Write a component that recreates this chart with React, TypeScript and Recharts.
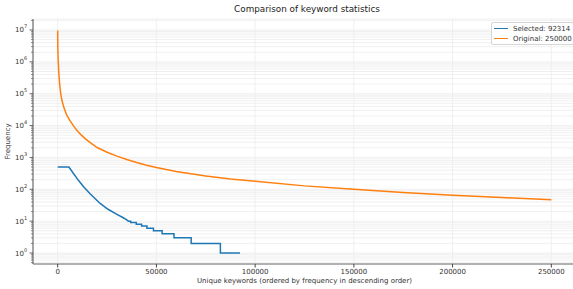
import { LineChart, Line, XAxis, YAxis, CartesianGrid } from 'recharts';

// values
const selectedRanks = [0, 5700, 7900, 10500, 13000, 16400, 21500, 25500, 30000, 33000, 35000, 35800, 37000, 37000, 39800, 39800, 42500, 42500, 45200, 45200, 48500, 48500, 52900, 52900, 58900, 58900, 67600, 67600, 82400, 82400, 92314];
const selectedFreqs = [500, 500, 318, 191, 122, 72, 36, 23.6, 16.4, 13, 11, 10, 10, 9, 9, 8, 8, 7, 7, 6, 6, 5, 5, 4, 4, 3, 3, 2, 2, 1, 1];

const originalRanks = [0, 60, 150, 300, 500, 700, 1000, 1500, 2200, 3200, 4500, 6000, 8000, 10000, 12000, 14200, 17000, 20000, 25000, 30000, 35000, 40000, 45000, 50000, 60000, 75000, 87500, 100000, 125000, 150000, 175000, 200000, 225000, 250000];
const originalFreqs = [9600000, 3000000, 1700000, 1000000, 550000, 350000, 200000, 105000, 60000, 36000, 22000, 15000, 9800, 6800, 5000, 3750, 2750, 2050, 1450, 1100, 860, 690, 570, 480, 360, 260, 210, 178, 128, 100, 80, 65, 55, 47];

const xTicks = [0, 50000, 100000, 150000, 200000, 250000];
const yMajorExps = [0, 1, 2, 3, 4, 5, 6, 7];
const yMinorMult = [2, 3, 4, 5, 6, 7, 8, 9];

const selectedData = selectedRanks.map((r, i) => ({ rank: r, freq: selectedFreqs[i] }));
const originalData = originalRanks.map((r, i) => ({ rank: r, freq: originalFreqs[i] }));

const yMajor = yMajorExps.map((e) => Math.pow(10, e));
const yMinor: number[] = [];
[-1, ...yMajorExps].forEach((e) => yMinorMult.forEach((m) => yMinor.push(m * Math.pow(10, e))));
const yDomain = [Math.pow(10, -0.345), Math.pow(10, 7.345)];
const yTicks = [...yMajor, ...yMinor.filter((v) => v > yDomain[0] && v < yDomain[1])];

const FONT = '"DejaVu Sans", sans-serif';
const BLUE = '#1f77b4';
const ORANGE = '#ff7f0e';
const AXIS_X = 33;

function YTick(props: any) {
  const { y, payload } = props;
  const v = payload.value;
  const e = Math.round(Math.log10(v));
  const major = Math.abs(Math.log10(v) - e) < 1e-6;
  if (!major) {
    return <line x1={AXIS_X - 2} x2={AXIS_X} y1={y} y2={y} stroke="#444" strokeWidth={0.6} />;
  }
  return (
    <g>
      <line x1={AXIS_X - 3.5} x2={AXIS_X} y1={y} y2={y} stroke="#444" strokeWidth={0.8} />
      <text x={AXIS_X - 9} y={y + 2.5} textAnchor="end" fontSize={7} fill="#333" fontFamily={FONT}>
        10
      </text>
      <text x={AXIS_X - 9} y={y - 1.5} textAnchor="start" fontSize={5} fill="#333" fontFamily={FONT}>
        {e}
      </text>
    </g>
  );
}

function YLabel(props: any) {
  const { viewBox } = props;
  const cy = viewBox.y + viewBox.height / 2;
  return (
    <text x={10} y={cy} transform={`rotate(-90 10 ${cy})`} textAnchor="middle" fontSize={7} fill="#333" fontFamily={FONT}>
      Frequency
    </text>
  );
}

const legendItems = [
  { label: 'Selected: 92314', color: BLUE },
  { label: 'Original: 250000', color: ORANGE },
];

export default function App() {
  return (
    <div style={{ position: 'relative', width: 573, height: 289, overflow: 'hidden', background: '#fff' }}>
      <style>{'body{margin:0}'}</style>
      <div
        style={{
          position: 'absolute',
          left: 0,
          top: 4,
          width: 614,
          textAlign: 'center',
          fontFamily: FONT,
          fontSize: 8.8,
          color: '#222',
        }}
      >
        Comparison of keyword statistics
      </div>
      <LineChart width={580} height={289} margin={{ top: 19, right: 4, left: 0, bottom: 0 }}>
        <CartesianGrid stroke="#ececec" strokeWidth={0.8} />
        <XAxis
          dataKey="rank"
          type="number"
          domain={[-12500, 262500]}
          ticks={xTicks}
          allowDataOverflow
          height={25}
          axisLine={{ stroke: '#9a9a9a', strokeWidth: 1.6 }}
          tickLine={{ stroke: '#444' }}
          tickSize={3.5}
          tick={{ fontSize: 7, fill: '#333', fontFamily: FONT }}
          label={{
            value: 'Unique keywords (ordered by frequency in descending order)',
            position: 'insideBottom',
            offset: 6,
            style: { fontSize: 7, fill: '#333', fontFamily: FONT },
          }}
        />
        <XAxis xAxisId="top" orientation="top" type="number" domain={[-12500, 262500]} height={0} tick={false} tickLine={false} axisLine={{ stroke: '#555' }} />
        <YAxis
          scale="log"
          domain={yDomain}
          ticks={yTicks}
          allowDataOverflow
          interval={0}
          width={33}
          axisLine={{ stroke: '#555' }}
          tickLine={false}
          tick={<YTick />}
          label={<YLabel />}
        />
        <Line
          data={selectedData}
          dataKey="freq"
          name="Selected: 92314"
          type="linear"
          stroke={BLUE}
          strokeWidth={1.5}
          dot={false}
          isAnimationActive={false}
        />
        <Line
          data={originalData}
          dataKey="freq"
          name="Original: 250000"
          type="linear"
          stroke={ORANGE}
          strokeWidth={1.5}
          dot={false}
          isAnimationActive={false}
        />
      </LineChart>
      <div
        style={{
          position: 'absolute',
          left: 491,
          top: 22,
          width: 79,
          border: '1px solid #d5d5d5',
          borderRadius: 2,
          background: 'rgba(255,255,255,0.85)',
          padding: '0.5px 0 0.5px 2px',
          fontFamily: FONT,
          fontSize: 7,
          color: '#333',
          whiteSpace: 'nowrap',
        }}
      >
        {legendItems.map((it) => (
          <div key={it.label} style={{ display: 'flex', alignItems: 'center', height: 10 }}>
            <span style={{ display: 'inline-block', width: 14, height: 1.5, background: it.color, marginRight: 5 }} />
            <span>{it.label}</span>
          </div>
        ))}
      </div>
    </div>
  );
}
